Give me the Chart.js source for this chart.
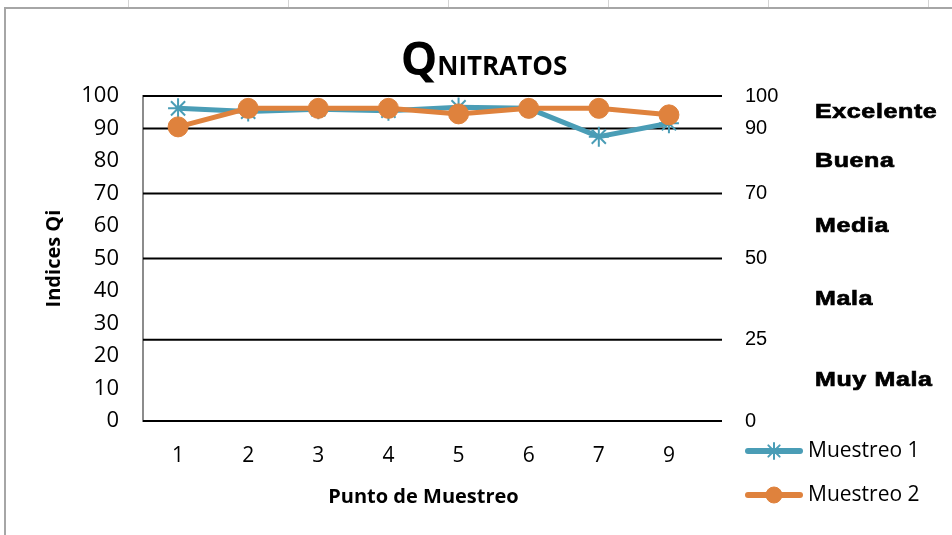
<!DOCTYPE html>
<html>
<head>
<meta charset="utf-8">
<script src="https://cdn.jsdelivr.net/npm/chart.js@4.4.1/dist/chart.umd.min.js"></script>
<style>
  html, body { margin: 0; padding: 0; background: #ffffff; }
  #wrap { width: 952px; height: 535px; position: relative; }
</style>
</head>
<body>
<div id="wrap"><canvas id="c" width="952" height="535"></canvas></div>
<script>
// Puntos de muestreo (eje X)
const puntos = ['1', '2', '3', '4', '5', '6', '7', '9'];
// Índice Qi de nitratos por campaña
const muestreo1 = [96.2, 95.2, 95.9, 95.5, 96.5, 96.2, 87.5, 91.6];
const muestreo2 = [90.5, 96.2, 96.2, 96.2, 94.5, 96.2, 96.2, 94.2];
// Marcas del eje izquierdo
const ticksQi = [0, 10, 20, 30, 40, 50, 60, 70, 80, 90, 100];
// Límites de las clases de calidad (eje derecho)
const limitesCalidad = [100, 90, 70, 50, 25, 0];
const clasesCalidad = ['Excelente', 'Buena', 'Media', 'Mala', 'Muy Mala'];

const COLOR_M1 = '#4a9db6';
const COLOR_M2 = '#df823d';
const FONT_TXT = '"Open Sans", "Liberation Sans", sans-serif';
const FONT_ARIAL = '"Liberation Sans", Arial, sans-serif';

// Marco de la hoja y fondo
const marcoPlugin = {
  id: 'marco',
  beforeDraw(chart) {
    const ctx = chart.ctx;
    ctx.save();
    ctx.fillStyle = '#ffffff';
    ctx.fillRect(0, 0, chart.width, chart.height);
    ctx.strokeStyle = '#d4d4d4';
    ctx.lineWidth = 1;
    [128, 288, 448, 608, 768, 928].forEach(x => {
      ctx.beginPath();
      ctx.moveTo(x + 0.5, 0);
      ctx.lineTo(x + 0.5, 7);
      ctx.stroke();
    });
    ctx.strokeStyle = '#a6a6a6';
    ctx.lineWidth = 2;
    ctx.beginPath();
    ctx.moveTo(5, chart.height + 2);
    ctx.lineTo(5, 8);
    ctx.lineTo(chart.width + 2, 8);
    ctx.stroke();
    ctx.restore();
  }
};

// Líneas que separan las clases de calidad
const limitesPlugin = {
  id: 'limites',
  beforeDatasetsDraw(chart) {
    const ctx = chart.ctx;
    const y = chart.scales.y;
    const area = chart.chartArea;
    ctx.save();
    ctx.strokeStyle = '#000000';
    ctx.lineWidth = 2;
    limitesCalidad.forEach(v => {
      const py = y.getPixelForValue(v);
      ctx.beginPath();
      ctx.moveTo(area.left, py);
      ctx.lineTo(area.right + 18, py);
      ctx.stroke();
    });
    ctx.restore();
  },
  afterDraw(chart) {
    // Nombre de cada clase, en el centro de su franja
    const ctx = chart.ctx;
    const y = chart.scales.y;
    ctx.save();
    ctx.fillStyle = '#000000';
    ctx.strokeStyle = '#000000';
    ctx.lineWidth = 0.7;
    ctx.font = 'bold 20px ' + FONT_ARIAL;
    ctx.textBaseline = 'middle';
    ctx.textAlign = 'left';
    ctx.letterSpacing = '0.5px';
    clasesCalidad.forEach((nombre, i) => {
      const mid = (limitesCalidad[i] + limitesCalidad[i + 1]) / 2;
      const py = y.getPixelForValue(mid);
      ctx.save();
      ctx.translate(815, py);
      ctx.scale(1.25, 1);
      ctx.fillText(nombre, 0, 0);
      ctx.strokeText(nombre, 0, 0);
      ctx.restore();
    });
    ctx.restore();
  }
};

// Título con la Q mayor y el resto en versalitas
const tituloPlugin = {
  id: 'tituloQ',
  afterDraw(chart) {
    const ctx = chart.ctx;
    ctx.save();
    ctx.fillStyle = '#000000';
    ctx.textBaseline = 'alphabetic';
    ctx.textAlign = 'left';
    const fQ = 'bold 46px ' + FONT_TXT;
    const fR = 'bold 26px ' + FONT_TXT;
    ctx.font = fQ;
    const wQ = ctx.measureText('Q').width;
    ctx.font = fR;
    const wR = ctx.measureText('NITRATOS').width;
    const x0 = 484 - (wQ + wR) / 2;
    ctx.font = fQ;
    ctx.fillText('Q', x0, 75);
    ctx.font = fR;
    ctx.fillText('NITRATOS', x0 + wQ, 75);
    ctx.restore();
  }
};

// Leyenda a la derecha, bajo el eje de calidad
const leyendaPlugin = {
  id: 'leyenda',
  afterDraw(chart) {
    const ctx = chart.ctx;
    const filas = [451, 495];
    chart.data.datasets.forEach((ds, i) => {
      const cy = filas[i];
      ctx.save();
      ctx.strokeStyle = ds.borderColor;
      ctx.lineWidth = 6;
      ctx.lineCap = 'round';
      ctx.beginPath();
      ctx.moveTo(748, cy);
      ctx.lineTo(800, cy);
      ctx.stroke();
      ctx.lineWidth = ds.pointBorderWidth;
      ctx.strokeStyle = ds.pointBorderColor;
      ctx.fillStyle = ds.pointBackgroundColor;
      Chart.helpers.drawPoint(ctx, {
        pointStyle: ds.pointStyle,
        radius: 8,
        borderWidth: ds.pointBorderWidth
      }, 774, cy);
      ctx.fillStyle = '#000000';
      ctx.font = '21px ' + FONT_TXT;
      ctx.textBaseline = 'middle';
      ctx.textAlign = 'left';
      ctx.fillText(ds.label, 808, cy);
      ctx.restore();
    });
  }
};

new Chart(document.getElementById('c'), {
  type: 'line',
  data: {
    labels: puntos,
    datasets: [
      {
        label: 'Muestreo 1',
        data: muestreo1,
        borderColor: COLOR_M1,
        backgroundColor: COLOR_M1,
        borderWidth: 5,
        pointStyle: 'star',
        pointRadius: 10,
        pointBorderWidth: 2,
        pointBorderColor: COLOR_M1,
        pointBackgroundColor: COLOR_M1,
        tension: 0,
        order: 1
      },
      {
        label: 'Muestreo 2',
        data: muestreo2,
        borderColor: COLOR_M2,
        backgroundColor: COLOR_M2,
        borderWidth: 5,
        pointStyle: 'circle',
        pointRadius: 10,
        pointBorderWidth: 1,
        pointBorderColor: COLOR_M2,
        pointBackgroundColor: COLOR_M2,
        tension: 0,
        order: 0
      }
    ]
  },
  options: {
    responsive: false,
    animation: false,
    devicePixelRatio: 1,
    layout: { padding: { top: 96, right: 148, bottom: 0, left: 0 } },
    plugins: {
      legend: { display: false },
      title: { display: false },
      tooltip: { enabled: false }
    },
    scales: {
      x: {
        type: 'category',
        offset: true,
        grid: { display: false, drawTicks: false },
        border: { display: true, color: '#8c8c8c', width: 2 },
        ticks: { color: '#000000', font: { family: FONT_TXT, size: 21 }, padding: 22, maxRotation: 0 },
        title: {
          display: true,
          text: 'Punto de Muestreo',
          color: '#000000',
          font: { family: FONT_TXT, size: 20, weight: 'bold' },
          padding: { top: 0, bottom: 26 }
        },
        afterFit(s) { s.height = 114; }
      },
      y: {
        min: 0,
        max: 100,
        grid: { display: false, drawTicks: false },
        border: { display: true, color: '#8c8c8c', width: 2 },
        afterBuildTicks(s) { s.ticks = ticksQi.map(v => ({ value: v })); },
        ticks: { color: '#000000', font: { family: FONT_TXT, size: 22 }, padding: 24 },
        title: {
          display: true,
          text: 'Indices Qi',
          color: '#000000',
          font: { family: FONT_TXT, size: 20, weight: 'bold' },
          padding: { top: 42, bottom: 0 }
        },
        afterFit(s) { s.width = 143; }
      },
      y2: {
        position: 'right',
        min: 0,
        max: 100,
        grid: { display: false, drawTicks: false },
        border: { display: false },
        afterBuildTicks(s) { s.ticks = limitesCalidad.map(v => ({ value: v })); },
        ticks: { color: '#000000', font: { family: FONT_ARIAL, size: 20 }, padding: 41 },
        afterFit(s) { s.width = 100; }
      }
    }
  },
  plugins: [marcoPlugin, limitesPlugin, tituloPlugin, leyendaPlugin]
});
</script>
</body>
</html>
